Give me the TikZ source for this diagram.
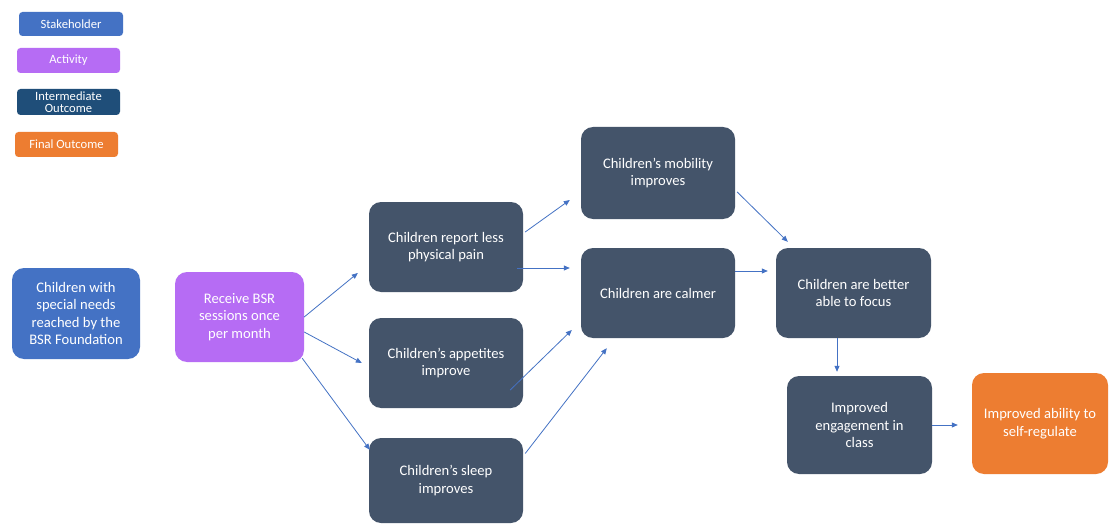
\documentclass[tikz,border=0pt]{standalone}
\usepackage{fontspec}
\setmainfont{Carlito}
\usetikzlibrary{arrows.meta,calc}
\definecolor{stakeblue}{HTML}{4472C4}
\definecolor{actpurple}{HTML}{B66CF4}
\definecolor{midslate}{HTML}{44546A}
\definecolor{legnavy}{HTML}{1F4E79}
\definecolor{finalorange}{HTML}{ED7D31}
\definecolor{linkblue}{HTML}{4472C4}
\tikzset{
  box/.style={rounded corners=12pt, draw=none, text=white, align=center,
    font=\fontsize{14.6}{17.5}\selectfont, inner sep=0pt},
  stakebox/.style={box, fill=stakeblue},
  actbox/.style={box, fill=actpurple},
  midbox/.style={box, fill=midslate},
  finalbox/.style={box, fill=finalorange},
  legbox/.style={rounded corners=3.5pt, text=white, align=center,
    font=\fontsize{12.6}{13}\selectfont, inner sep=0pt,
    minimum width=103pt},
  arr/.style={draw=linkblue, line width=0.8pt,
    -{Triangle[length=6pt,width=5pt]}}
}
\begin{document}
\begin{tikzpicture}[x=1pt,y=-1pt]
\useasboundingbox (0,0) rectangle (1109,524);
\fill[white] (0,0) rectangle (1109,524);

% legend
\node[legbox, fill=stakeblue, minimum width=104pt, minimum height=24pt] (lstake) at (71,24) {Stakeholder};
\node[legbox, fill=actpurple, minimum height=25pt] (lact) at (68.5,60.5) {Activity};
\node[legbox, fill=legnavy, minimum height=26pt] (lmid) at (68.5,102) {Intermediate\\[-1pt]Outcome};
\node[legbox, fill=finalorange, minimum height=25pt] (lfinal) at (66.5,144.5) {Final Outcome};

% chain of outcomes
\node[stakebox, minimum width=128pt, minimum height=91pt] (stake) at (76,313.5)
  {Children with\\special needs\\reached by the\\BSR Foundation};
\node[actbox, minimum width=129pt, minimum height=90pt] (act) at (239.5,317)
  {Receive BSR\\sessions once\\per month};
\node[midbox, minimum width=154pt, minimum height=90pt] (pain) at (446,247)
  {Children report less\\physical pain};
\node[midbox, minimum width=154pt, minimum height=90pt] (app) at (446,363)
  {Children’s appetites\\improve};
\node[midbox, minimum width=154pt, minimum height=85pt] (sleep) at (446,480.5)
  {Children’s sleep\\improves};
\node[midbox, minimum width=154pt, minimum height=92pt] (mob) at (658,173)
  {Children’s mobility\\improves};
\node[midbox, minimum width=154pt, minimum height=90pt] (calm) at (658,293)
  {Children are calmer};
\node[midbox, minimum width=155pt, minimum height=90pt] (focus) at (853.5,293)
  {Children are better\\able to focus};
\node[midbox, minimum width=145pt, minimum height=98pt] (eng) at (859.5,425)
  {Improved\\engagement in\\class};
\node[finalbox, minimum width=136pt, minimum height=101pt] (abil) at (1040,423.5)
  {Improved ability to\\self-regulate};

% links
\draw[arr] (act.east) -- ($(pain.west)+(-11,26)$);
\draw[arr] ($(act.east)+(0,15)$) -- ($(app.west)+(-7,0)$);
\draw[arr] ($(act.south east)+(-2,-4)$) -- ($(sleep.north west)+(1,12)$);
\draw[arr] ($(pain.east)+(2,-15)$) -- ($(mob.west)+(-11,27)$);
\draw[arr] ($(pain.east)+(-6,21)$) -- ($(calm.west)+(-11,-25)$);
\draw[arr] ($(app.east)+(-13,27)$) -- ($(calm.west)+(-9,37)$);
\draw[arr] ($(sleep.east)+(2,-27)$) -- ($(calm.south west)+(26,10)$);
\draw[arr] ($(mob.east)+(2,19)$) -- ($(focus.north west)+(12,-6)$);
\draw[arr] ($(calm.east)+(0,-22)$) -- ($(focus.west)+(-8,-22)$);
\draw[arr] ($(focus.south)+(-16.5,0)$) -- ($(eng.north)+(-22.5,-4)$);
\draw[arr] (eng.east) -- ($(abil.west)+(-14,1.5)$);
\end{tikzpicture}
\end{document}
